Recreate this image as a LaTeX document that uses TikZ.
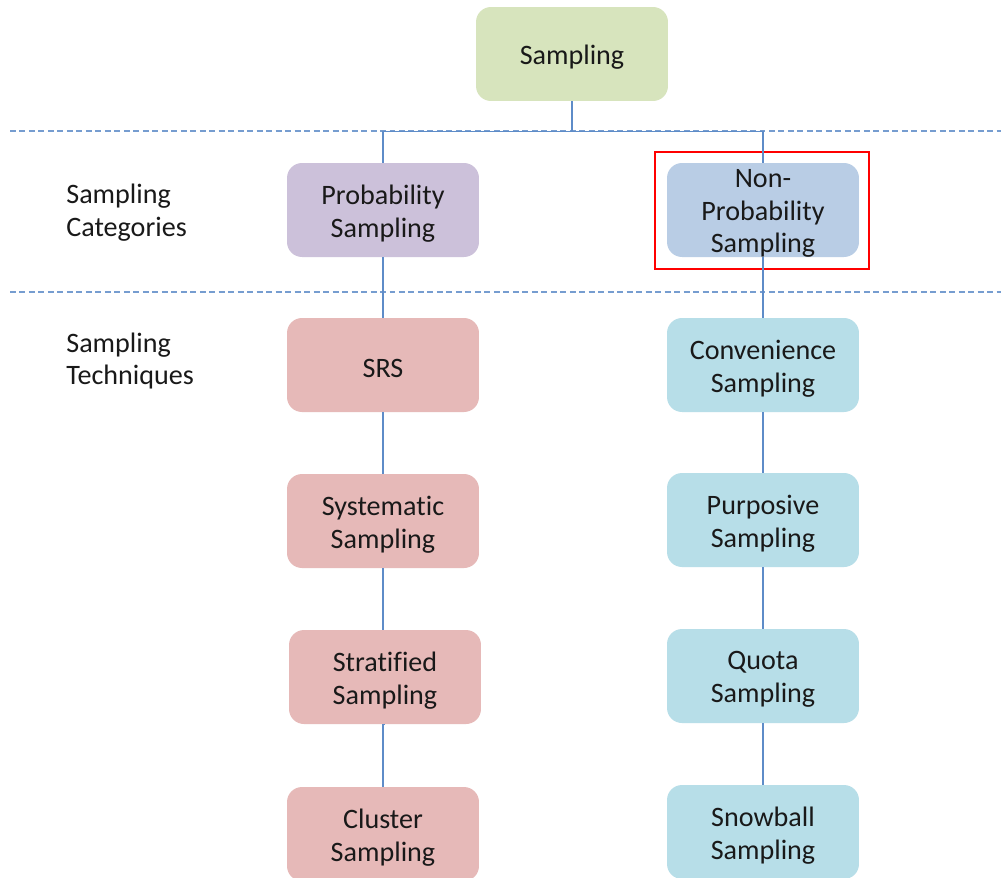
\documentclass[tikz,border=0pt]{standalone}
\usepackage{fontspec}
\setmainfont{Carlito}[Ligatures=NoCommon]
\begin{document}
\begin{tikzpicture}[x=0.02cm,y=-0.02cm,
  box/.style={rounded corners=0.3cm, minimum width=3.84cm, minimum height=1.88cm, inner sep=0pt},
  txt/.style={align=center, inner sep=0pt, font=\fontsize{16}{18.7}\selectfont, text=black!90},
  link/.style={draw=linkblue, line width=0.9pt},
  sep/.style={draw=linkblue!85, line width=0.8pt, dash pattern=on 3.4pt off 2pt},
  lbl/.style={anchor=west, align=left, inner sep=0pt, font=\fontsize{16}{18.7}\selectfont, text=black!90}]
\definecolor{linkblue}{HTML}{5E8CC8}
\definecolor{rootfill}{HTML}{D7E4BD}
\definecolor{probfill}{HTML}{CCC1DA}
\definecolor{nonfill}{HTML}{B9CDE5}
\definecolor{pinkfill}{HTML}{E6B9B8}
\definecolor{cyanfill}{HTML}{B7DEE8}
\clip (0,0) rectangle (1001,877);
\fill[white] (0,0) rectangle (1001,877);

% section separators
\coordinate (s1a) at (10,131);
\coordinate (s1b) at (1001,131);
\coordinate (s2a) at (10,292);
\coordinate (s2b) at (1001,292);
\draw[sep] (s1a) -- (s1b);
\draw[sep] (s2a) -- (s2b);

% row labels
\node[lbl] (catlbl) at (66,213) {Sampling\\Categories};
\node[lbl] (teclbl) at (66,361) {Sampling\\Techniques};

% boxes
\node[box, fill=rootfill] (root) at (572,54) {};
\node[box, fill=probfill] (prob) at (383,210) {};
\node[box, fill=nonfill]  (nonp) at (763,210) {};
\node[box, fill=pinkfill] (srs) at (383,365) {};
\node[box, fill=pinkfill] (sys) at (383,521) {};
\node[box, fill=pinkfill] (str) at (385,677) {};
\node[box, fill=pinkfill] (clu) at (383,834) {};
\node[box, fill=cyanfill] (con) at (763,365) {};
\node[box, fill=cyanfill] (pur) at (763,520) {};
\node[box, fill=cyanfill] (quo) at (763,676) {};
\node[box, fill=cyanfill] (sno) at (763,832) {};

% box captions, set slightly below the box centres
\node[txt] (roott) at ([yshift=-2pt]root.center) {Sampling};
\node[txt] (probt) at ([yshift=-2pt]prob.center) {Probability\\Sampling};
\node[txt] (nonpt) at ([yshift=-2pt]nonp.center) {Non-\\Probability\\Sampling};
\node[txt] (srst) at ([yshift=-2pt]srs.center) {SRS};
\node[txt] (syst) at ([yshift=-2pt]sys.center) {Systematic\\Sampling};
\node[txt] (strt) at ([yshift=-2pt]str.center) {Stratified\\Sampling};
\node[txt] (clut) at ([yshift=-2pt]clu.center) {Cluster\\Sampling};
\node[txt] (cont) at ([yshift=-2pt]con.center) {Convenience\\Sampling};
\node[txt] (purt) at ([yshift=-2pt]pur.center) {Purposive\\Sampling};
\node[txt] (quot) at ([yshift=-2pt]quo.center) {Quota\\Sampling};
\node[txt] (snot) at ([yshift=-2pt]sno.center) {Snowball\\Sampling};

% highlight frame
\draw[red, line width=1.4pt] (655,152) rectangle (869,269);

% tree connectors
\draw[link] (root.south) -- ++(0,30) -| (prob.north);
\draw[link] (root.south) -- ++(0,30) -| (nonp.north);
\draw[link] (prob.south) -- (srs.north);
\draw[link] (srs.south) -- (sys.north);
\draw[link] (sys.south) -- (sys.south |- str.north);
\draw[link] (str.south) -- (str.south -| clu.north) -- (clu.north);
\draw[link] (nonp.south) -- (con.north);
\draw[link] (con.south) -- (pur.north);
\draw[link] (pur.south) -- (quo.north);
\draw[link] (quo.south) -- (sno.north);
\end{tikzpicture}
\end{document}
